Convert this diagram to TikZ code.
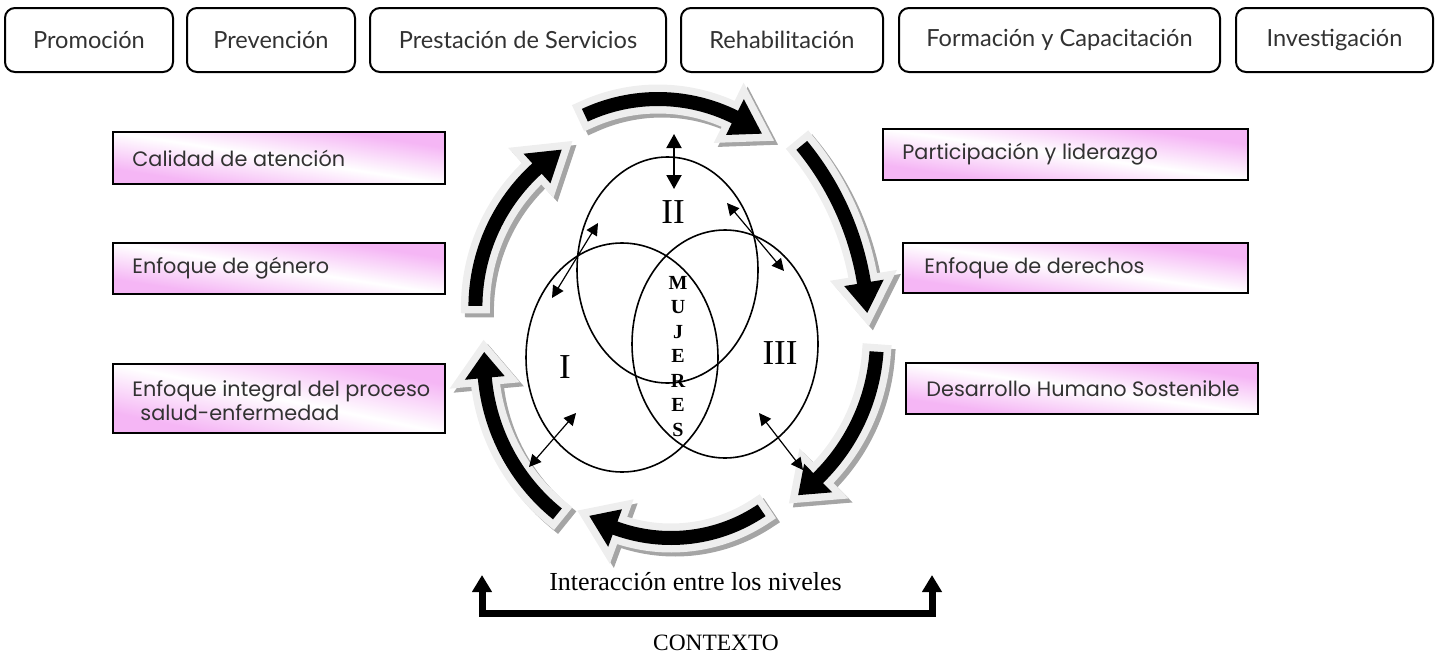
\documentclass[tikz,border=0pt]{standalone}
\usepackage{fontspec}
\setmainfont{Liberation Serif}
\newfontfamily\latof{Lato}
\newfontfamily\popf{Poppins}
\usetikzlibrary{arrows.meta}
\definecolor{pinkc}{RGB}{245,182,245}
\definecolor{txtgray}{RGB}{50,50,50}
\definecolor{lightc}{RGB}{238,238,238}
\definecolor{shadc}{RGB}{165,165,165}
\newcommand\pinkfill[4]{%
  \begin{scope}[transform canvas={shift={(#1,#2)}, xscale=#3, yscale=#4}]
    \shade[top color=pinkc, bottom color=pinkc, middle color=white, shading angle=-45]
      (-50,-50) rectangle (50,50);
  \end{scope}}
\begin{document}
\begin{tikzpicture}[x=0.5pt,y=0.5pt,
  topbox/.style={draw=black, line width=1pt, rounded corners=5pt, minimum height=32pt,
    font=\latof\fontsize{11.8}{14}\selectfont, text=txtgray, inner sep=0pt},
  pinkbox/.style={draw=black, line width=1pt, inner sep=0pt},
  pinktext/.style={font=\popf\fontsize{10.4}{12}\selectfont, text=txtgray, inner sep=0pt, align=left, anchor=west},
  venn/.style={line width=0.8pt},
  dbl/.style={line width=0.6pt, {Triangle[length=6pt,width=6pt]}-{Triangle[length=6pt,width=6pt]}},
  dblbig/.style={line width=1pt, {Triangle[length=7pt,width=7.5pt]}-{Triangle[length=7pt,width=7.5pt]}},
  roman/.style={font=\fontsize{17.5}{20}\selectfont, inner sep=0pt},
  bracket/.style={line width=3.5pt, {Triangle[length=8.5pt,width=9.5pt]}-{Triangle[length=8.5pt,width=9.5pt]}},
  shadowarrow/.style={fill=shadc, draw=shadc, line width=7.5pt, line join=miter},
  lightarrow/.style={fill=lightc, draw=lightc, line width=7.5pt, line join=miter},
  blackarrow/.style={fill=black}
]
\useasboundingbox (0,0) rectangle (1439,-653);

% ---- top boxes
\node[topbox, minimum width=84pt]    (promo) at (89,-40)     {Promoción};
\node[topbox, minimum width=84pt]    (prev)  at (271,-40)    {Prevención};
\node[topbox, minimum width=148pt]   (prest) at (518,-40)    {Prestación de Servicios};
\node[topbox, minimum width=101pt]   (rehab) at (782,-40)    {Rehabilitación};
\node[topbox, minimum width=160.5pt] (form)  at (1059.5,-40) {Formación y Capacitación};
\node[topbox, minimum width=98.5pt]  (inv)   at (1334.5,-40) {Investigación};

% ---- pink boxes left
\pinkfill{279}{-158}{3.32}{0.52}
\node[pinkbox, minimum width=166pt, minimum height=26pt]   (cal) at (279,-158)   {};
\node[pinktext] (calt) at ([xshift=10pt]cal.west) {Calidad de atención};
\pinkfill{279}{-268.5}{3.32}{0.51}
\node[pinkbox, minimum width=166pt, minimum height=25.5pt] (gen) at (279,-268.5) {};
\node[pinktext] (gent) at ([xshift=10pt]gen.west) {Enfoque de género};
\pinkfill{279}{-398.5}{3.32}{0.69}
\node[pinkbox, minimum width=166pt, minimum height=34.5pt] (integ) at (279,-398.5) {};
\node[pinktext] (integt) at ([xshift=10pt,yshift=-1pt]integ.west) {Enfoque integral del proceso\\\hspace*{4pt}salud-enfermedad};

% ---- pink boxes right
\pinkfill{1065.5}{-154.5}{3.65}{0.51}
\node[pinkbox, minimum width=182.5pt, minimum height=25.5pt] (part) at (1065.5,-154.5) {};
\node[pinktext] (partt) at ([xshift=10pt]part.west) {Participación y liderazgo};
\pinkfill{1075.5}{-268}{3.45}{0.50}
\node[pinkbox, minimum width=172.5pt, minimum height=25pt] (der) at (1075.5,-268) {};
\node[pinktext] (dert) at ([xshift=11pt]der.west) {Enfoque de derechos};
\pinkfill{1082}{-388.5}{3.52}{0.51}
\node[pinkbox, minimum width=176pt, minimum height=25.5pt] (des) at (1082,-388.5) {};
\node[pinktext] (dest) at ([xshift=10.5pt]des.west) {Desarrollo Humano Sostenible};

% ---- curved cycle arrows (centre x / centre y / radius / tail / head base / tip angles)
\foreach \cx/\cy/\R/\ta/\hb/\tp in {
    658/-272/173/115/63.6/53.1,
    579/-329/288.7/39.5/9.2/3.2,
    681/-338/196/-4/-45.6/-53.3,
    671/-376/162/-56/-110.2/-120.3,
    682/-360/198/-129/-174.8/-182.3,
    663/-307.5/187.6/179.5/132.2/122.7} {
  \pgfmathsetmacro\Ro{\R+7}
  \pgfmathsetmacro\Ri{\R-7}
  \pgfmathsetmacro\Rho{\R+20}
  \pgfmathsetmacro\Rhi{\R-20}
  \foreach \dx/\dy/\sty in {4/-4/shadowarrow, 0/0/lightarrow, 0/0/blackarrow} {
    \begin{scope}[shift={({\cx+\dx},{\cy+\dy})}]
      \path[\sty] (\ta:\Ro) arc[start angle=\ta, end angle=\hb, radius=\Ro]
        -- (\hb:\Rho) -- (\tp:\R) -- (\hb:\Rhi) -- (\hb:\Ri)
        arc[start angle=\hb, end angle=\ta, radius=\Ri] -- cycle;
    \end{scope}
  }
}

% ---- Venn ellipses
\draw[venn] (667.5,-270) ellipse [x radius=90.5, y radius=113];
\draw[venn] (622,-357.5) ellipse [x radius=96, y radius=114.5];
\draw[venn] (725,-344) ellipse [x radius=93, y radius=114];

\node[roman] (n2) at (673,-212) {II};
\node[roman] (n1) at (565,-367) {I};
\node[roman] (n3) at (780,-353) {III};
\node[font=\bfseries\fontsize{10}{12.25}\selectfont, align=center, inner sep=0pt] (muj) at (678,-356.5) {M\\U\\J\\E\\R\\E\\S};

% ---- double arrows
\coordinate (v1) at (674,-134); \coordinate (v2) at (674,-189);
\coordinate (a1) at (598,-223); \coordinate (a2) at (552,-298);
\coordinate (b1) at (727,-203); \coordinate (b2) at (784,-271);
\coordinate (c1) at (576,-413); \coordinate (c2) at (529,-467);
\coordinate (d1) at (759,-413); \coordinate (d2) at (803,-470);
\draw[dblbig] (v1) -- (v2);
\draw[dbl] (a1) -- (a2);
\draw[dbl] (b1) -- (b2);
\draw[dbl] (c1) -- (c2);
\draw[dbl] (d1) -- (d2);

% ---- bottom
\node[font=\fontsize{13}{15}\selectfont, anchor=base, inner sep=0pt] (inter) at (695.5,-590) {Interacción entre los niveles};
\coordinate (bl) at (482,-575); \coordinate (blc) at (482,-613);
\coordinate (brc) at (932,-613); \coordinate (br) at (932,-575);
\draw[bracket] (bl) -- (blc) -- (brc) -- (br);
\node[font=\fontsize{11.7}{14}\selectfont, anchor=base, inner sep=0pt] (ctx) at (716,-650) {CONTEXTO};
\end{tikzpicture}
\end{document}
